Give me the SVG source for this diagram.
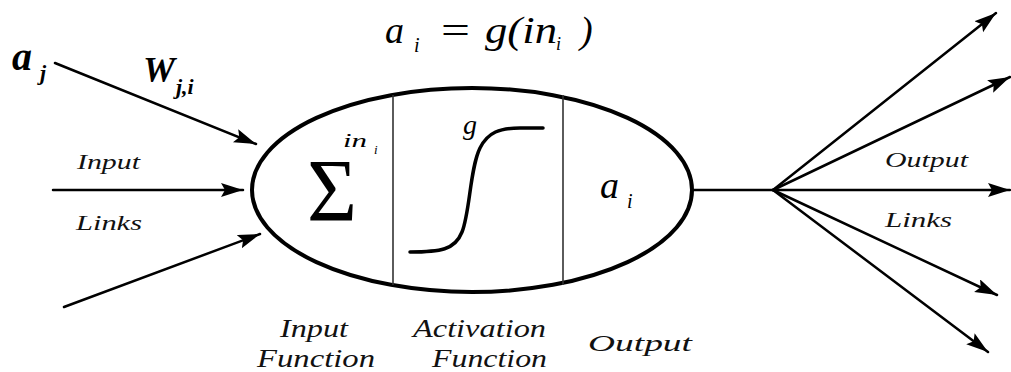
<svg xmlns="http://www.w3.org/2000/svg" width="1011" height="372" viewBox="0 0 1011 372">
<style>
.m{font-family:'Liberation Serif','Times New Roman','Tinos','Noto Serif','DejaVu Serif',serif;font-style:italic;fill:#000}
.s{font-family:'Liberation Serif','Times New Roman','Tinos','Noto Serif','DejaVu Serif',serif;fill:#000}
.b{font-weight:bold}
.lbl{font-family:'Liberation Serif','Times New Roman','Tinos','Noto Serif','DejaVu Serif',serif;font-style:italic;fill:#111}
.ln{stroke:#000;stroke-width:2.5;fill:none;stroke-linecap:round}
</style>
<defs>
<marker id="ah" markerUnits="userSpaceOnUse" markerWidth="24" markerHeight="16" refX="22" refY="7" orient="auto">
<path d="M0,0 L22,7 L0,14 L4,7 Z" fill="#000"/>
</marker>
</defs>
<rect width="1011" height="372" fill="#fff"/>
<g id="connectors">
<line class="ln" x1="55" y1="63" x2="256" y2="144" marker-end="url(#ah)"/>
<line class="ln" x1="53" y1="190" x2="243" y2="190" marker-end="url(#ah)"/>
<line class="ln" x1="64" y1="307" x2="260" y2="234" marker-end="url(#ah)"/>
<line class="ln" x1="692" y1="190" x2="773" y2="190"/>
<line class="ln" x1="773" y1="190" x2="996" y2="13" marker-end="url(#ah)"/>
<line class="ln" x1="773" y1="190" x2="1010" y2="77" marker-end="url(#ah)"/>
<line class="ln" x1="773" y1="190" x2="1010" y2="190" marker-end="url(#ah)"/>
<line class="ln" x1="773" y1="190" x2="997" y2="295" marker-end="url(#ah)"/>
<line class="ln" x1="773" y1="190" x2="988" y2="352" marker-end="url(#ah)"/>
</g>
<g id="neuron">
<ellipse cx="472" cy="190" rx="220" ry="102" fill="none" stroke="#000" stroke-width="4"/>
<line x1="393" y1="95" x2="393" y2="285" stroke="#333" stroke-width="1.6"/>
<line x1="563" y1="95" x2="563" y2="285" stroke="#333" stroke-width="1.6"/>
</g>
<g id="input-function">
<text class="s" x="307" y="220" font-size="88" textLength="50" lengthAdjust="spacingAndGlyphs">Σ</text>
<text class="m" x="343" y="147" font-size="19" textLength="24" lengthAdjust="spacingAndGlyphs">in</text>
<text class="m" x="374" y="154" font-size="13">i</text>
</g>
<g id="activation-function">
<text class="m" x="463" y="134" font-size="28">g</text>
<path d="M410,252 C440,252 455,250 462,232 C470,212 470,168 480,148 C488,132 500,128 520,128 L543,128" fill="none" stroke="#000" stroke-width="3.5" stroke-linecap="round"/>
</g>
<g id="output-value">
<text class="m" x="600" y="198" font-size="38">a</text>
<text class="m" x="627" y="208" font-size="20">i</text>
</g>
<g id="formula">
<text class="m" x="385" y="43" font-size="38">a</text>
<text class="m" x="414" y="52" font-size="20">i</text>
<text class="s" x="441" y="43" font-size="38" textLength="29" lengthAdjust="spacingAndGlyphs">=</text>
<text class="m" x="485" y="43" font-size="38" textLength="72" lengthAdjust="spacingAndGlyphs">g(in</text>
<text class="m" x="556" y="50" font-size="18">i</text>
<text class="m" x="580" y="43" font-size="38">)</text>
</g>
<g id="input-labels">
<text class="m b" x="12" y="70" font-size="40">a</text>
<text class="m b" x="40" y="80" font-size="22">j</text>
<text class="m b" x="143" y="82" font-size="36">W</text>
<text class="m b" x="176" y="94" font-size="22">j,i</text>
<text class="lbl" x="77" y="169" font-size="22" textLength="63" lengthAdjust="spacingAndGlyphs">Input</text>
<text class="lbl" x="76" y="230" font-size="22" textLength="66" lengthAdjust="spacingAndGlyphs">Links</text>
</g>
<g id="bottom-labels">
<text class="lbl" x="280" y="337" font-size="26" textLength="68" lengthAdjust="spacingAndGlyphs">Input</text>
<text class="lbl" x="257" y="367" font-size="26" textLength="118" lengthAdjust="spacingAndGlyphs">Function</text>
<text class="lbl" x="413" y="337" font-size="26" textLength="133" lengthAdjust="spacingAndGlyphs">Activation</text>
<text class="lbl" x="432" y="367" font-size="26" textLength="115" lengthAdjust="spacingAndGlyphs">Function</text>
<text class="lbl" x="588" y="351" font-size="24" textLength="104" lengthAdjust="spacingAndGlyphs">Output</text>
</g>
<g id="output-labels">
<text class="lbl" x="885" y="167" font-size="22" textLength="83" lengthAdjust="spacingAndGlyphs">Output</text>
<text class="lbl" x="885" y="227" font-size="22" textLength="67" lengthAdjust="spacingAndGlyphs">Links</text>
</g>
</svg>
